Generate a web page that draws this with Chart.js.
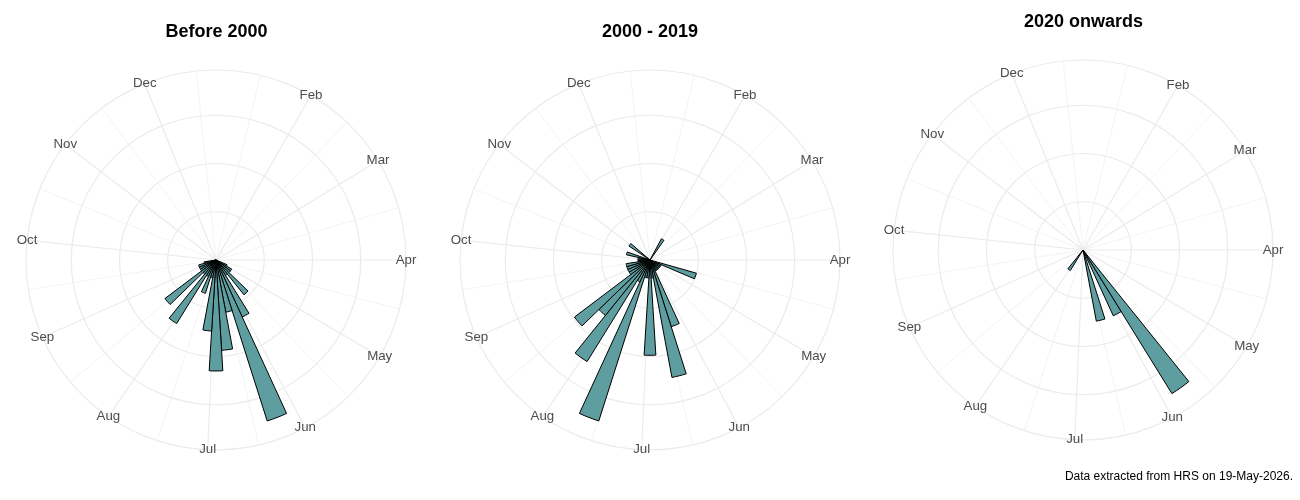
<!DOCTYPE html>
<html>
<head>
<meta charset="utf-8">
<script src="https://cdn.jsdelivr.net/npm/chart.js@4.4.1/dist/chart.umd.min.js"></script>
<style>
    body { margin: 0; background: #ffffff; }
    #wrap { display: flex; width: 1300px; height: 500px; }
    .panel { position: relative; height: 500px; }
</style>
</head>
<body>
<div id="wrap">
    <div class="panel" style="width: 433px;"><canvas id="before-2000"></canvas></div>
    <div class="panel" style="width: 434px;"><canvas id="from-2000"></canvas></div>
    <div class="panel" style="width: 433px;"><canvas id="since-2020"></canvas></div>
</div>
<script>
// 月份標籤與角度（度，由正上方順時針量起）
const months = ['Feb', 'Mar', 'Apr', 'May', 'Jun', 'Jul', 'Aug', 'Sep', 'Oct', 'Nov', 'Dec'];
const monthAngles = [29.8, 58.3, 90.0, 120.6, 152.2, 182.6, 214.4, 245.8, 276.1, 307.6, 337.9];
const minorAngles = [13.6, 43.7, 73.8, 104.9, 136.0, 167.1, 198.2, 229.8, 260.9, 292.0, 323.1, 354.2];

// 每週一格，共 51 格，從正上方開始
const binCount = 51;

const before2000 = [
    0, 0, 0, 0, 0, 0, 0, 0, 0, 0,
    0, 0, 0, 0, 0, 0, 1, 1.5, 1.5, 3.7,
    1.5, 5.2, 14, 4.4, 7.5, 9.2, 5.9, 1.5, 2.9, 1.5,
    6.2, 1.5, 5.3, 1.5, 1.5, 1.5, 1, 0, 0, 0,
    0, 0, 0, 0, 0, 0, 0, 0, 0, 0,
    0,
];
const from2000to2019 = [
    0, 0, 0, 0, 2, 0, 0, 0, 0, 0,
    0, 0, 0, 0, 0, 4, 1, 1, 1, 1,
    1, 1, 5.8, 9.9, 1.5, 7.9, 1.5, 1.5, 14, 2,
    9.9, 5.9, 7.85, 2, 2, 2, 2, 1, 1, 1,
    2, 0, 0, 2.1, 0, 0, 0, 0, 0, 0,
    0,
];
const since2020 = [
    0, 0, 0, 0, 0, 0, 0, 0, 0, 0,
    0, 0, 0, 0, 0, 0, 0, 0, 0, 0,
    7, 3, 0, 3, 0, 0, 0, 0, 0, 0,
    1, 0, 0, 0, 0, 0, 0, 0, 0, 0,
    0, 0, 0, 0, 0, 0, 0, 0, 0, 0,
    0,
];

// 半徑格線（計數）
const breaksMain = [4, 8, 12];
const breaksRecent = [2, 4, 6];

const caption = 'Data extracted from HRS on 19-May-2026.';

Chart.defaults.font.family = '"Liberation Sans", Arial, sans-serif';

// 角度網格：每半度一個位置，只有月份與月中畫線
const gridSteps = 720;
const angleWidths = new Array(gridSteps).fill(0);
minorAngles.forEach((a) => { angleWidths[Math.round(a * 2) % gridSteps] = 0.6; });
monthAngles.forEach((a) => { angleWidths[Math.round(a * 2) % gridSteps] = 1.2; });
const gridLabels = angleWidths.map(() => '');
const monthIndex = monthAngles.map((a) => Math.round(a * 2) % gridSteps);

// 月份文字置中於外圈上
const monthLabels = {
    id: 'monthLabels',
    afterDraw(chart) {
        const scale = chart.scales.r;
        const ctx = chart.ctx;
        ctx.save();
        ctx.font = '13.3px "Liberation Sans", Arial, sans-serif';
        ctx.fillStyle = '#4D4D4D';
        ctx.textAlign = 'center';
        ctx.textBaseline = 'middle';
        monthIndex.forEach((idx, i) => {
            const p = scale.getPointPosition(idx, scale.drawingArea);
            ctx.fillText(months[i], p.x, p.y);
        });
        ctx.restore();
    },
};

function drawRose(id, title, counts, maxCount, breaks, layout) {
    const outer = maxCount * 0.45 / 0.4;
    const tickValues = [0, ...breaks, outer];

    return new Chart(document.getElementById(id), {
        type: 'polarArea',
        data: {
            labels: gridLabels,
            datasets: [{
                data: counts,
                angle: 360 / binCount,
                backgroundColor: '#5F9EA0',
                borderColor: '#000000',
                borderWidth: (c) => (c.raw > 0 ? 1 : 0),
            }],
        },
        options: {
            responsive: true,
            maintainAspectRatio: false,
            animation: false,
            layout: { padding: layout.padding },
            scales: {
                r: {
                    min: 0,
                    max: outer,
                    startAngle: 0,
                    ticks: { display: false },
                    grid: { circular: true, color: '#EBEBEB', lineWidth: 1.2 },
                    angleLines: {
                        display: true,
                        color: '#EBEBEB',
                        lineWidth: (c) => angleWidths[c.index],
                    },
                    pointLabels: { display: false },
                    afterBuildTicks: (scale) => {
                        scale.ticks = tickValues.map((v) => ({ value: v }));
                    },
                },
            },
            plugins: {
                legend: false,
                tooltip: false,
                title: {
                    display: true,
                    text: title,
                    color: '#000000',
                    font: { size: 18, weight: 'bold' },
                    padding: layout.titlePadding,
                },
                subtitle: layout.caption ? {
                    display: true,
                    text: layout.caption,
                    position: 'bottom',
                    align: 'end',
                    color: '#000000',
                    font: { size: 12 },
                    padding: { top: 29, bottom: 16.6 },
                } : { display: false },
            },
        },
        plugins: [monthLabels],
    });
}

drawRose('before-2000', 'Before 2000', before2000, 14, breaksMain, {
    padding: { top: 0, bottom: 50, left: 0, right: 0 },
    titlePadding: { top: 21.2, bottom: 27.2 },
});
drawRose('from-2000', '2000 - 2019', from2000to2019, 14, breaksMain, {
    padding: { top: 0, bottom: 50, left: 0, right: 0 },
    titlePadding: { top: 21.2, bottom: 27.2 },
});
drawRose('since-2020', '2020 onwards', since2020, 7, breaksRecent, {
    padding: { top: 0, bottom: 0, left: 7, right: 7 },
    titlePadding: { top: 11.2, bottom: 27.2 },
    caption: caption,
});
</script>
</body>
</html>
